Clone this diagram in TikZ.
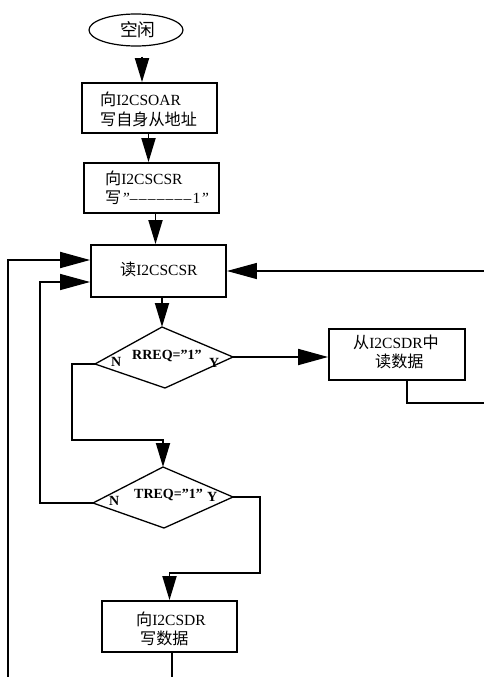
\documentclass[tikz,border=0pt]{standalone}
\usepackage{fontspec}
\setmainfont{Liberation Serif}
\newfontfamily\cjk[Scale=1.04]{Noto Sans CJK SC}
\usetikzlibrary{arrows.meta,shapes.geometric}
\newcommand\dsh{–\kern1.2pt}
\begin{document}
\begin{tikzpicture}[x=1pt,y=-1pt,
  box/.style={draw,line width=1.8pt,inner sep=0pt},
  dia/.style={draw,line width=1.3pt,line join=miter},
  conn/.style={line width=1.8pt},
  thinconn/.style={line width=1.3pt},
  varr/.style={-{Triangle[length=24pt,width=14pt]}},
  harr/.style={-{Triangle[length=30pt,width=16pt]}},
  txt/.style={anchor=base west,inner sep=0pt,font=\fontsize{15.5}{19}\selectfont},
  lbl/.style={anchor=base west,inner sep=0pt,font=\fontsize{14}{16}\selectfont\bfseries},
]
\useasboundingbox (0,0) rectangle (484,677);

% start ellipse
\node[draw,ellipse,line width=1.2pt,minimum width=94pt,minimum height=32pt,inner sep=0pt] (s) at (136,30) {};
\node[txt,font=\fontsize{17}{20}\selectfont] (ts) at (120,37) {\cjk 空闲};

% boxes
\node[box,minimum width=135pt,minimum height=50pt] (b1) at (149.5,108) {};
\node[box,minimum width=135pt,minimum height=50pt] (b2) at (151.5,188) {};
\node[box,minimum width=135pt,minimum height=52pt] (b3) at (158.5,271) {};
\node[box,minimum width=136pt,minimum height=51pt] (b4) at (397,354.5) {};
\node[box,minimum width=135pt,minimum height=51pt] (b5) at (169.5,626.5) {};

% diamonds
\coordinate (d1t) at (162,327);
\coordinate (d1r) at (233,357);
\coordinate (d1b) at (165,388);
\coordinate (d1l) at (95,364);
\draw[dia] (d1t) -- (d1r) -- (d1b) -- (d1l) -- cycle;
\coordinate (d2t) at (163,467);
\coordinate (d2r) at (233,497);
\coordinate (d2b) at (164,528);
\coordinate (d2l) at (93,503);
\draw[dia] (d2t) -- (d2r) -- (d2b) -- (d2l) -- cycle;

% texts
\node[txt] (t1a) at (100,105) {{\cjk 向}I2CSOAR};
\node[txt] (t1b) at (100,125) {\cjk 写自身从地址};
\node[txt] (t2a) at (105,184) {{\cjk 向}I2CSCSR};
\node[txt] (t2b) at (105,203) {{\cjk 写}{\itshape ”}\dsh\dsh\dsh\dsh\dsh\dsh\dsh 1{\itshape ”}};
\node[txt] (t3) at (120,275) {{\cjk 读}I2CSCSR};
\node[txt] (t4a) at (353,348) {{\cjk 从}I2CSDR{\cjk 中}};
\node[txt] (t4b) at (375,367) {\cjk 读数据};
\node[txt] (t5a) at (136,625) {{\cjk 向}I2CSDR};
\node[txt] (t5b) at (140,644) {\cjk 写数据};
\node[lbl] (n1) at (111,366) {N};
\node[lbl] (q1) at (132,359) {RREQ=”1”};
\node[lbl] (y1) at (209,367) {Y};
\node[lbl] (n2) at (109,505) {N};
\node[lbl] (q2) at (134,498) {TREQ=”1”};
\node[lbl] (y2) at (207,501) {Y};

% helper coordinates
\coordinate (nturn1) at (72,440);
\coordinate (nturn2) at (40,282);
\coordinate (yturn2) at (260,573);
\coordinate (rout) at (484,403);
\coordinate (rin) at (484,271);
\coordinate (bout) at (172,677);
\coordinate (lin) at (8,677);

% connectors
\draw[conn,varr] ([xshift=6pt,yshift=-10pt]s.south) -- ([xshift=-7.5pt]b1.north);
\draw[conn,varr] ([xshift=-1pt]b1.south) -- ([xshift=-3pt]b2.north);
\draw[conn,varr] ([xshift=4pt]b2.south) -- ([xshift=-3pt]b3.north);
\draw[conn,varr] ([xshift=3.5pt]b3.south) -- (d1t);
\draw[conn,harr] (d1r) -- (d1r -| b4.west);
\draw[conn] ([xshift=10pt]b4.south) |- (rout);
\draw[thinconn,harr] (rin) -- (rin -| b3.east);
\draw[conn,varr] (d1l) -| (nturn1) -| (d2t);
\draw[thinconn,harr] (d2l) -| (nturn2) -- ([yshift=-11pt]b3.west);
\draw[conn,varr] (d2r) -| (yturn2) -| (b5.north);
\draw[conn] ([xshift=2.5pt]b5.south) -- (bout);
\draw[conn,harr] (lin) |- ([yshift=11pt]b3.west);
\end{tikzpicture}
\end{document}
